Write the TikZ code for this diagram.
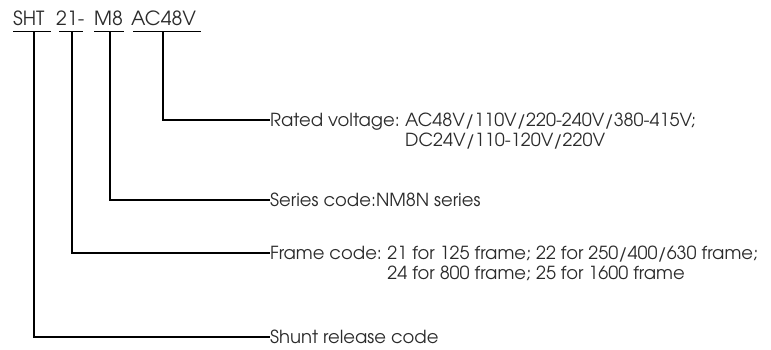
\documentclass[tikz,border=0pt]{standalone}
\usepackage{fontspec}
\setmainfont{TeX Gyre Adventor}
\definecolor{codetext}{HTML}{2B2B2B}
\tikzset{
    code/.style={anchor=base west, inner sep=0pt, text=codetext, font=\fontsize{19.5}{20}\selectfont},
    descr/.style={anchor=base west, inner sep=0pt, text=codetext, font=\fontsize{18}{20}\selectfont},
    lead/.style={line width=1.3pt}
}
\begin{document}
\begin{tikzpicture}[x=1pt, y=-1pt]
        \useasboundingbox (0,0) rectangle (771,349);

        % Type designation
        \node[code] (sht) at (13, 25) {SHT};
        \node[code] (frm) at (56, 25) {21-};
        \node[code] (ser) at (94, 25) {M8};
        \node[code] (vlt) at (131, 25) {AC48V};

        % Underlines
        \foreach \a/\b in {13/51, 59/83, 94/124, 133/201} {
            \draw[line width=1pt] (\a, 31) -- (\b, 31);
        }

        % Where the leads start
        \coordinate (sht-u) at (34, 31);
        \coordinate (frm-u) at (72, 31);
        \coordinate (ser-u) at (110, 31);
        \coordinate (vlt-u) at (163, 31);

        % Descriptions
        \node[descr] (vlt-d) at (270, 126) {Rated voltage:};
        \node[descr] (vlt-v) at ([xshift=5pt]vlt-d.base east) {AC48V/110V/220-240V/380-415V;};
        \node[descr] (vlt-d2) at ([yshift=-20pt]vlt-v.base west) {DC24V/110-120V/220V};
        \node[descr] (ser-d) at (270, 206) {Series code:NM8N series};
        \node[descr] (frm-d) at (270, 259) {Frame code:};
        \node[descr] (frm-v) at ([xshift=5pt]frm-d.base east) {21 for 125 frame; 22 for 250/400/630 frame;};
        \node[descr] (frm-d2) at ([yshift=-20pt]frm-v.base west) {24 for 800 frame; 25 for 1600 frame};
        \node[descr] (sht-d) at (270, 343) {Shunt release code};

        % Leads
        \draw[lead] (vlt-u) |- (vlt-d.west |- 0,120);
        \draw[lead] (ser-u) |- (ser-d.west |- 0,200);
        \draw[lead] (frm-u) |- (frm-d.west |- 0,253);
        \draw[lead] (sht-u) |- (sht-d.west |- 0,337);
    \end{tikzpicture}
\end{document}
